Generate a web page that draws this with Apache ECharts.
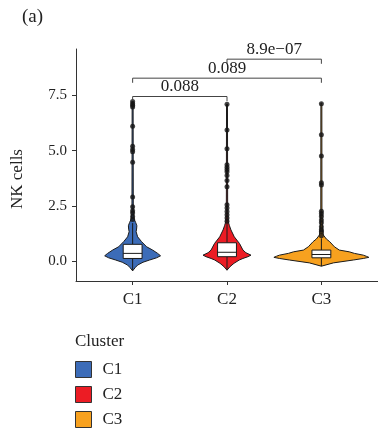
<!DOCTYPE html>
<html>
<head>
<meta charset="utf-8">
<script src="https://cdn.jsdelivr.net/npm/echarts@6/dist/echarts.min.js"></script>
<style>
  html, body { margin: 0; padding: 0; background: #fff; }
  #chart { width: 378px; height: 438px; }
</style>
</head>
<body>
<div id="chart"></div>
<script>
const clusters = ['C1', 'C2', 'C3'];
const clusterColors = ['#3c6cb8', '#ec1c24', '#f7a11f'];
const yTicks = [0, 2.5, 5, 7.5];

// violin outlines: y values and half widths (in category units)
const c1ViolinY = [-0.44, -0.3, -0.18, -0.05, 0.05, 0.15, 0.24, 0.35, 0.5, 0.65, 0.88, 1.1, 1.33, 1.45, 1.6, 1.75, 1.9, 2.2, 7.25];
const c1ViolinW = [0, 0.026, 0.053, 0.11, 0.18, 0.254, 0.296, 0.265, 0.212, 0.148, 0.095, 0.053, 0.037, 0.042, 0.045, 0.032, 0.016, 0.007, 0.005];
const c2ViolinY = [-0.41, -0.25, -0.1, 0.05, 0.12, 0.2, 0.27, 0.38, 0.5, 0.8, 1.1, 1.41, 1.6, 1.78, 2.2, 7.1];
const c2ViolinW = [0, 0.032, 0.074, 0.13, 0.169, 0.222, 0.254, 0.2, 0.169, 0.132, 0.077, 0.042, 0.026, 0.013, 0.007, 0.005];
const c3ViolinY = [-0.23, -0.08, 0.05, 0.12, 0.17, 0.22, 0.27, 0.35, 0.42, 0.5, 0.65, 0.88, 1.0, 1.18, 1.5, 2.3, 7.15];
const c3ViolinW = [0, 0.127, 0.339, 0.444, 0.503, 0.476, 0.444, 0.35, 0.296, 0.19, 0.138, 0.088, 0.053, 0.021, 0.011, 0.006, 0.005];

// box plot stats
const boxLow = [-0.44, -0.41, -0.23];
const boxQ1 = [0.12, 0.2, 0.15];
const boxMedian = [0.35, 0.4, 0.3];
const boxQ3 = [0.76, 0.83, 0.5];
const boxHigh = [1.72, 1.78, 1.03];

// outlier points
const c1Points = [7.22, 7.12, 7.05, 6.97, 6.1, 5.2, 5.05, 4.95, 4.48, 2.9, 2.46, 2.28, 2.18, 2.02, 1.88];
const c2Points = [7.1, 5.93, 5.09, 4.36, 4.25, 4.15, 4.05, 3.87, 3.65, 3.37, 2.55, 2.4, 2.25, 2.1, 1.95, 1.8];
const c3Points = [7.12, 5.72, 4.76, 3.55, 3.45, 2.26, 2.14, 2.02, 1.86, 1.74, 1.56, 1.42, 1.33, 1.15];

// significance brackets
const bracketFrom = [1, 1, 2];
const bracketTo = [2, 3, 3];
const bracketY = [7.45, 8.28, 9.14];
const bracketLabels = ['0.088', '0.089', '8.9e\u221207'];

const serif = 'Liberation Serif';
const chart = echarts.init(document.getElementById('chart'));

function violinSeries(idx, ys, ws) {
  const cx = idx + 1;
  return {
    name: clusters[idx],
    type: 'custom',
    itemStyle: { color: clusterColors[idx] },
    data: [[cx, ys[0]]],
    z: 2,
    renderItem: function (params, api) {
      const left = ys.map((y, i) => api.coord([cx - ws[i], y]));
      const right = ys.map((y, i) => api.coord([cx + ws[i], y])).reverse();
      return {
        type: 'polygon',
        shape: { points: left.concat(right) },
        style: { fill: clusterColors[idx], stroke: '#1a1a1a', lineWidth: 1 }
      };
    }
  };
}

function pointSeries(idx, pts) {
  return {
    name: 'pts' + (idx + 1),
    type: 'scatter',
    symbolSize: 5,
    itemStyle: { color: '#151515' },
    z: 3,
    data: pts.map(v => [idx + 1, v])
  };
}

const boxData = clusters.map((c, i) => [i + 1, boxLow[i], boxQ1[i], boxMedian[i], boxQ3[i], boxHigh[i]]);
const bracketData = bracketLabels.map((t, i) => [bracketFrom[i], bracketTo[i], bracketY[i], t]);

const option = {
  animation: false,
  grid: { left: 76, top: 49, right: 0, bottom: 157 },
  xAxis: {
    type: 'value',
    min: 0.4,
    max: 3.6,
    splitLine: { show: false },
    axisLine: { onZero: false, lineStyle: { color: '#333', width: 1 } },
    axisTick: { customValues: [1, 2, 3], length: 4, lineStyle: { color: '#333' } },
    axisLabel: {
      customValues: [1, 2, 3],
      formatter: v => clusters[Math.round(v) - 1],
      fontFamily: serif, fontSize: 17, color: '#222', margin: 10
    }
  },
  yAxis: {
    type: 'value',
    min: -0.9,
    max: 9.6,
    splitLine: { show: false },
    axisLine: { show: true, onZero: false, lineStyle: { color: '#333', width: 1 } },
    axisTick: { show: true, customValues: yTicks, length: 4, lineStyle: { color: '#333' } },
    axisLabel: {
      customValues: yTicks,
      formatter: v => Number(v).toFixed(1),
      fontFamily: serif, fontSize: 15, color: '#222', margin: 9
    }
  },
  legend: {
    data: clusters,
    orient: 'vertical',
    left: 75,
    top: 361,
    height: 80,
    padding: 0,
    icon: 'rect',
    itemWidth: 16,
    itemHeight: 16,
    itemGap: 8,
    itemStyle: { borderColor: '#333', borderWidth: 1 },
    textStyle: { fontFamily: serif, fontSize: 17, color: '#222', padding: [0, 0, 0, 6] }
  },
  graphic: [
    { type: 'text', left: 22, top: 8, style: { text: '(a)', font: '19px "Liberation Serif"', fill: '#222' } },
    { type: 'text', left: 75, top: 333, style: { text: 'Cluster', font: '17px "Liberation Serif"', fill: '#222' } },
    {
      type: 'text', x: 18, y: 179, rotation: Math.PI / 2,
      style: { text: 'NK cells', font: '17px "Liberation Serif"', fill: '#222', align: 'center', verticalAlign: 'middle' }
    }
  ],
  series: [
    violinSeries(0, c1ViolinY, c1ViolinW),
    violinSeries(1, c2ViolinY, c2ViolinW),
    violinSeries(2, c3ViolinY, c3ViolinW),
    {
      name: 'box',
      type: 'custom',
      z: 4,
      data: boxData,
      renderItem: function (params, api) {
        const x = api.value(0);
        const hw = 0.1;
        const lo = api.coord([x, api.value(1)]);
        const q1 = api.coord([x, api.value(2)]);
        const med = api.coord([x, api.value(3)]);
        const q3 = api.coord([x, api.value(4)]);
        const hi = api.coord([x, api.value(5)]);
        const l = api.coord([x - hw, 0])[0];
        const r = api.coord([x + hw, 0])[0];
        const lineStyle = { stroke: '#1a1a1a', lineWidth: 1 };
        return {
          type: 'group',
          children: [
            { type: 'line', shape: { x1: lo[0], y1: lo[1], x2: q1[0], y2: q1[1] }, style: lineStyle },
            { type: 'line', shape: { x1: q3[0], y1: q3[1], x2: hi[0], y2: hi[1] }, style: lineStyle },
            { type: 'rect', shape: { x: l, y: q3[1], width: r - l, height: q1[1] - q3[1] }, style: { fill: '#fff', stroke: '#1a1a1a', lineWidth: 1 } },
            { type: 'line', shape: { x1: l, y1: med[1], x2: r, y2: med[1] }, style: lineStyle }
          ]
        };
      }
    },
    pointSeries(0, c1Points),
    pointSeries(1, c2Points),
    pointSeries(2, c3Points),
    {
      name: 'brackets',
      type: 'custom',
      z: 5,
      data: bracketData,
      renderItem: function (params, api) {
        const y = api.value(2);
        const a = api.coord([api.value(0), y]);
        const b = api.coord([api.value(1), y]);
        const drop = api.coord([api.value(0), y - 0.21])[1];
        const style = { stroke: '#444', lineWidth: 1, fill: null };
        return {
          type: 'group',
          children: [
            { type: 'polyline', shape: { points: [[a[0], drop], a, b, [b[0], drop]] }, style: style },
            {
              type: 'text',
              style: {
                text: bracketData[params.dataIndex][3],
                x: (a[0] + b[0]) / 2, y: a[1] - 1,
                align: 'center', verticalAlign: 'bottom',
                font: '17px "Liberation Serif"', fill: '#222'
              }
            }
          ]
        };
      }
    }
  ]
};

chart.setOption(option);
</script>
</body>
</html>
